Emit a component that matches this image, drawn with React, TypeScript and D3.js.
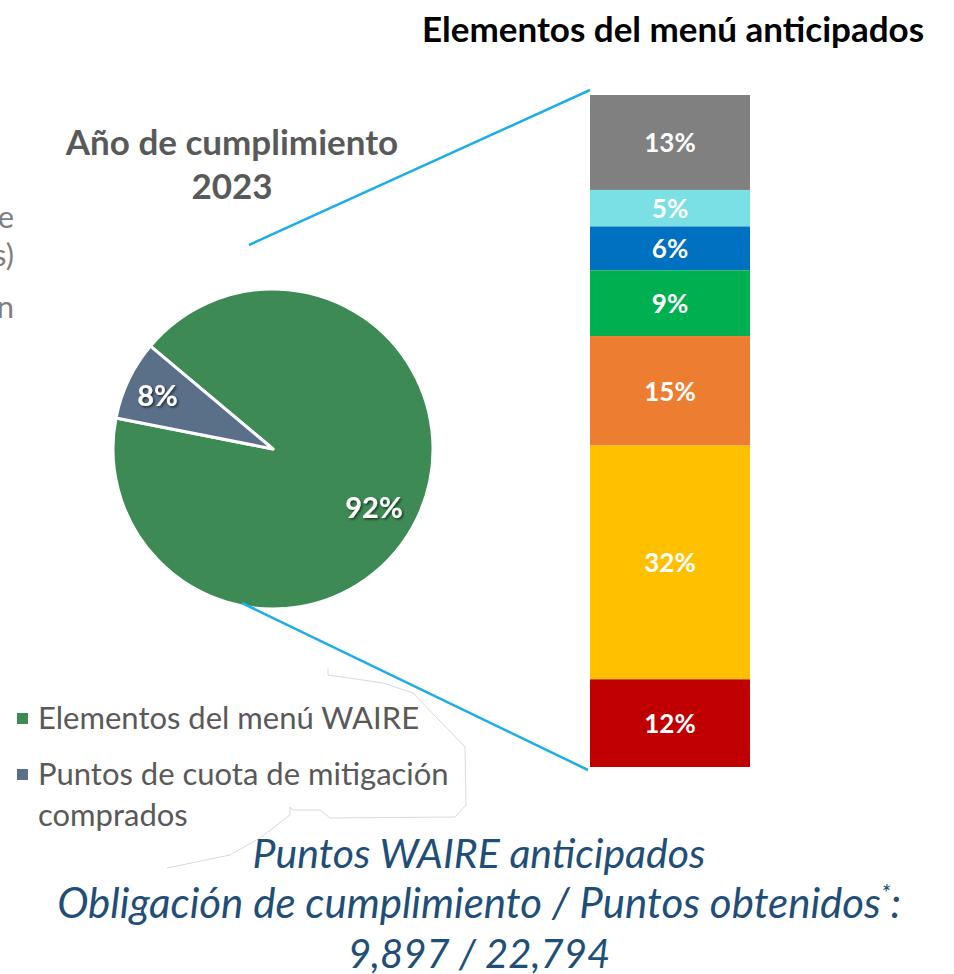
import React from "react";
import * as d3 from "d3";

const pieLabels = ["Elementos del menú WAIRE", "Puntos de cuota de mitigación comprados"];
const pieValues = [92, 8];
const pieColors = ["#3D8A54", "#5A6F88"];

const barCategories = ["c1", "c2", "c3", "c4", "c5", "c6", "c7"];
const barValues = [13, 5, 6, 9, 15, 32, 12];
const barColors = ["#808080", "#7BE0E6", "#0070C0", "#00B050", "#ED7D31", "#FFC000", "#C00000"];

const title = "Elementos del menú anticipados";
const pieTitle = ["Año de cumplimiento", "2023"];
const bottomLines = ["Puntos WAIRE anticipados", "Obligación de cumplimiento / Puntos obtenidos", "9,897 / 22,794"];
const leftFragments = ["e", "s)", "n"];

const FONT = "Lato, 'Open Sans', sans-serif";

export default function App() {
  const W = 954, H = 974;
  const cx = 273, cy = 449, R = 160;
  const start = (310 * Math.PI) / 180;
  const pie = d3.pie<number>().sort(null).startAngle(start).endAngle(start + 2 * Math.PI);
  const arcs = pie(pieValues);
  const arc = d3.arc<d3.PieArcDatum<number>>().innerRadius(0).outerRadius(R);
  const labelR = [R * 0.7, R * 0.8];

  const total = d3.sum(barValues);
  const y = d3.scaleLinear().domain([0, total]).range([95, 767]);
  const x0 = 590, bw = 160;
  let acc = 0;
  const segs = barValues.map((v, i) => {
    const s = { v, i, y0: y(acc), y1: y(acc + v) };
    acc += v;
    return s;
  });

  const outline = [
    [328, 668], [328, 675], [383, 683], [413, 693], [465, 747], [466, 805], [455, 817],
    [330, 818], [320, 810], [293, 810], [290, 807], [290, 815], [260, 838], [230, 855], [167, 868],
  ];

  return (
    <svg width={W} height={H} style={{ position: "absolute", left: 0, top: 0, background: "#fff" }}>
      <defs>
        <filter id="shadow" x="-20%" y="-20%" width="140%" height="160%">
          <feDropShadow dx="1.5" dy="1.5" stdDeviation="1" floodColor="#000" floodOpacity="0.6" />
        </filter>
      </defs>

      {/* left cut-off fragments */}
      {leftFragments.map((t, i) => (
        <text key={i} x={14} y={[228, 266, 318][i]} textAnchor="end" fontFamily={FONT} fontSize={31} fill="#7F7F7F">
          {t}
        </text>
      ))}

      {/* faint outline */}
      <path d={d3.line()(outline as [number, number][]) || ""} fill="none" stroke="#D9D9D9" strokeWidth={1} />

      {/* pie */}
      <g transform={`translate(${cx},${cy})`}>
        {arcs.map((a, i) => (
          <path key={i} d={arc(a) || ""} fill={pieColors[i]} stroke="#fff" strokeWidth={3} strokeLinejoin="round" />
        ))}
        {arcs.map((a, i) => {
          const la = d3.arc<d3.PieArcDatum<number>>().innerRadius(labelR[i]).outerRadius(labelR[i]);
          const [lx, ly] = la.centroid(a);
          return (
            <text key={i} x={lx} y={ly + (i === 0 ? 9 : 1)} textAnchor="middle" dominantBaseline="central"
              fontFamily={FONT} fontWeight={700} fontSize={29} fill="#fff" filter="url(#shadow)">
              {pieValues[i]}%
            </text>
          );
        })}
      </g>

      {/* connector lines */}
      <line x1={249} y1={245} x2={590} y2={90} stroke="#1EADE6" strokeWidth={2.5} />
      <line x1={242} y1={603} x2={588} y2={770} stroke="#1EADE6" strokeWidth={2.5} />

      {/* pie title */}
      {pieTitle.map((t, i) => (
        <text key={i} x={232} y={155 + i * 44} textAnchor="middle" fontFamily={FONT} fontWeight={700} fontSize={35} fill="#595959">
          {t}
        </text>
      ))}

      {/* bar */}
      {segs.map((s) => (
        <g key={barCategories[s.i]}>
          <rect x={x0} y={s.y0} width={bw} height={s.y1 - s.y0} fill={barColors[s.i]} />
          <text x={x0 + bw / 2} y={(s.y0 + s.y1) / 2} textAnchor="middle" dominantBaseline="central"
            fontFamily={FONT} fontWeight={700} fontSize={26} fill="#fff">
            {s.v}%
          </text>
        </g>
      ))}

      {/* top title */}
      <text x={673} y={42} textAnchor="middle" fontFamily={FONT} fontWeight={700} fontSize={35} fill="#000">
        {title}
      </text>

      {/* legend */}
      <rect x={17} y={713} width={11} height={11} fill={pieColors[0]} />
      <text x={38} y={729} fontFamily={FONT} fontSize={31} fill="#595959">{pieLabels[0]}</text>
      <rect x={17} y={769} width={11} height={11} fill={pieColors[1]} />
      <text x={38} y={785} fontFamily={FONT} fontSize={31} fill="#595959">Puntos de cuota de mitigación</text>
      <text x={38} y={826} fontFamily={FONT} fontSize={31} fill="#595959">comprados</text>

      {/* bottom text */}
      <text x={479} y={868} textAnchor="middle" fontFamily={FONT} fontStyle="italic" fontSize={41} fill="#1F4E79">
        {bottomLines[0]}
      </text>
      <text x={479} y={918} textAnchor="middle" fontFamily={FONT} fontStyle="italic" fontSize={42} fill="#1F4E79">
        {bottomLines[1]}
        <tspan fontSize={24} dy={-17}>*</tspan>
        <tspan dy={17}>:</tspan>
      </text>
      <text x={479} y={968} textAnchor="middle" fontFamily={FONT} fontStyle="italic" fontSize={40} fill="#1F4E79">
        {bottomLines[2]}
      </text>
    </svg>
  );
}
